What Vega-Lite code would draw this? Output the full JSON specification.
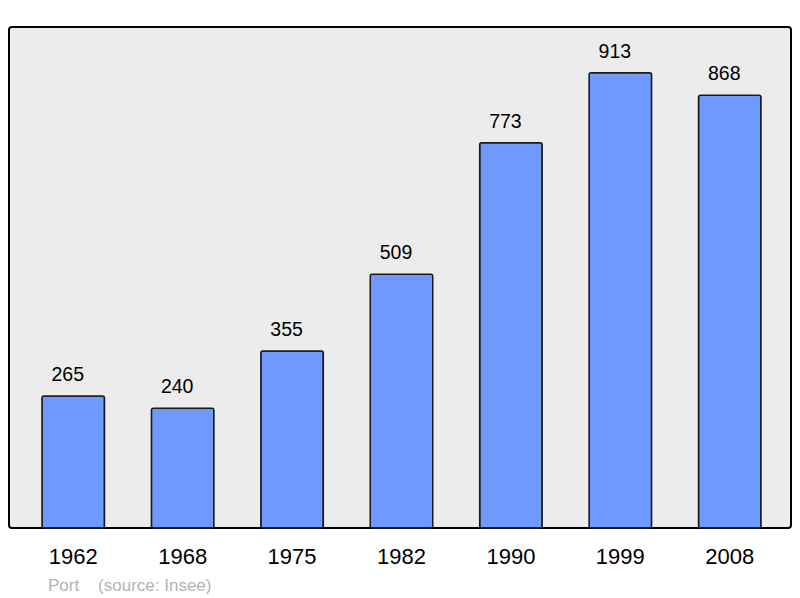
{
  "$schema": "https://vega.github.io/schema/vega-lite/v6.json",
  "width": 782,
  "height": 501,
  "autosize": {"type": "none"},
  "padding": {"left": 9, "top": 27, "right": 9, "bottom": 70},
  "background": "#ffffff",
  "config": {
    "font": "Liberation Sans",
    "view": {"fill": "#ececec", "stroke": "#000000", "strokeWidth": 2, "cornerRadius": 3}
  },
  "title": {
    "text": "Port\u00a0\u00a0\u00a0\u00a0(source: Insee)",
    "orient": "bottom",
    "anchor": "start",
    "dx": 39,
    "offset": 11,
    "fontSize": 17,
    "fontWeight": "normal",
    "color": "#b3b3b3",
    "font": "Liberation Sans"
  },
  "data": {
    "values": [
      {"year": "1962", "pop": 265},
      {"year": "1968", "pop": 240},
      {"year": "1975", "pop": 355},
      {"year": "1982", "pop": 509},
      {"year": "1990", "pop": 773},
      {"year": "1999", "pop": 913},
      {"year": "2008", "pop": 868}
    ]
  },
  "encoding": {
    "x": {
      "field": "year",
      "type": "nominal",
      "sort": null,
      "scale": {"range": [33, 752], "paddingInner": 0.429, "paddingOuter": 0},
      "axis": {
        "title": null,
        "labelAngle": 0,
        "labelFontSize": 22,
        "labelColor": "#000000",
        "labelPadding": 18,
        "ticks": false,
        "domain": false,
        "grid": false
      }
    },
    "y": {
      "field": "pop",
      "type": "quantitative",
      "scale": {"domain": [0, 1005], "nice": false},
      "axis": null
    }
  },
  "layer": [
    {
      "mark": {"type": "bar", "fill": "#7099ff", "stroke": "#1a1a1a", "strokeWidth": 1.5, "cornerRadius": 2}
    },
    {
      "mark": {"type": "text", "baseline": "bottom", "dx": -5.5, "dy": -11, "fontSize": 19.5, "color": "#000000"},
      "encoding": {"text": {"field": "pop", "type": "quantitative"}}
    }
  ]
}
